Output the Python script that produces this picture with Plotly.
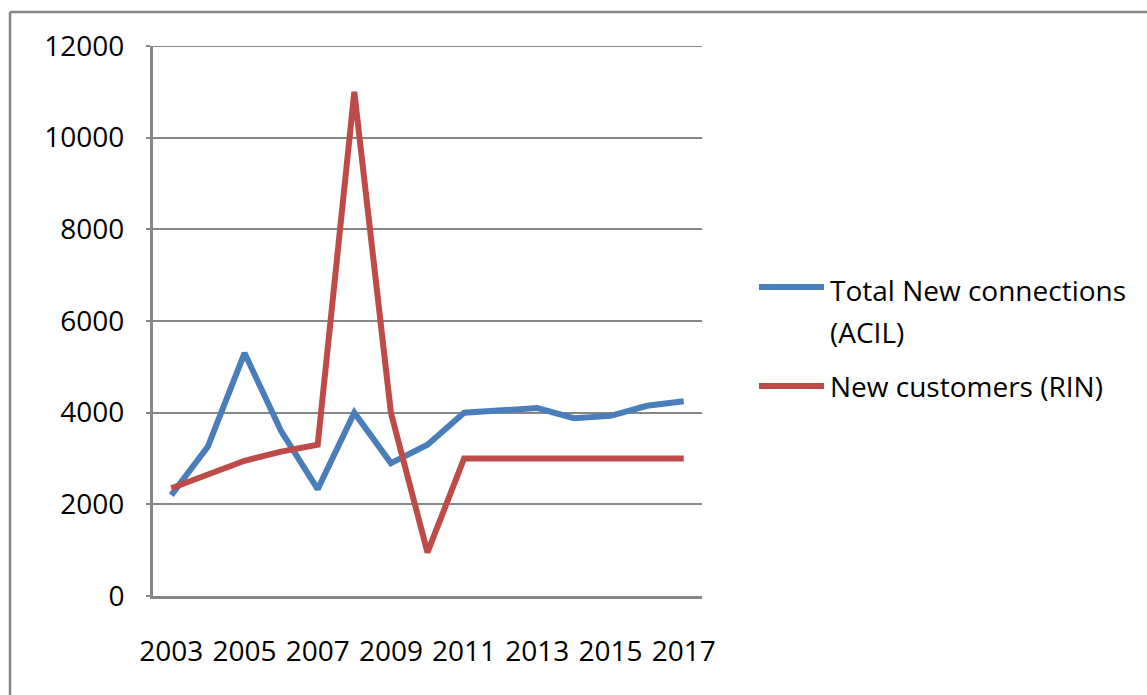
import plotly.graph_objects as go

# Annual series
years = [str(y) for y in range(2003, 2018)]
acil_connections = [2200, 3260, 5300, 3600, 2330, 4000, 2900, 3300,
                    4000, 4050, 4100, 3880, 3930, 4150, 4250]
rin_customers = [2350, 2640, 2950, 3150, 3300, 11000, 4000, 950,
                 3000, 3000, 3000, 3000, 3000, 3000, 3000]
series_names = ["Total New connections", "(ACIL)", "New customers (RIN)"]
y_ticks = [0, 2000, 4000, 6000, 8000, 10000, 12000]
x_ticks = years[::2]

BLUE = "#4A7EBB"
RED = "#BE4B48"
GREY = "#868686"
FONT = "Open Sans"
FS = 28

W, H = 1147, 695
L, R, T, B = 153, 445, 46, 99
PW, PH = W - L - R, H - T - B


def px_x(x):
    return (x - L) / PW


def px_y(y):
    return (H - B - y) / PH


fig = go.Figure()
fig.add_trace(go.Scatter(x=years, y=acil_connections, mode="lines",
                         line=dict(color=BLUE, width=6),
                         name=series_names[0], showlegend=False))
fig.add_trace(go.Scatter(x=years, y=rin_customers, mode="lines",
                         line=dict(color=RED, width=6),
                         name=series_names[2], showlegend=False))

shapes = [
    # top gridline at the end of the value range
    dict(type="line", xref="paper", yref="y", layer="below",
         x0=0, x1=1, y0=y_ticks[-1], y1=y_ticks[-1],
         line=dict(color=GREY, width=2)),
    # outer chart frame (left and top edges)
    dict(type="line", xref="paper", yref="paper",
         x0=px_x(10), x1=px_x(10), y0=px_y(12), y1=px_y(H + 5),
         line=dict(color=GREY, width=2.5)),
    dict(type="line", xref="paper", yref="paper",
         x0=px_x(10), x1=px_x(W + 5), y0=px_y(12), y1=px_y(12),
         line=dict(color=GREY, width=2.5)),
    # legend keys
    dict(type="line", xref="paper", yref="paper",
         x0=px_x(759), x1=px_x(824), y0=px_y(287), y1=px_y(287),
         line=dict(color=BLUE, width=6)),
    dict(type="line", xref="paper", yref="paper",
         x0=px_x(759), x1=px_x(824), y0=px_y(386), y1=px_y(386),
         line=dict(color=RED, width=6)),
]

legend_font = dict(family=FONT, size=FS, color="#000000")
annotations = [
    dict(text=series_names[0], x=px_x(828), y=px_y(290), xref="paper", yref="paper",
         xanchor="left", yanchor="middle", showarrow=False, font=legend_font),
    dict(text=series_names[1], x=px_x(828), y=px_y(332), xref="paper", yref="paper",
         xanchor="left", yanchor="middle", showarrow=False, font=legend_font),
    dict(text=series_names[2], x=px_x(828), y=px_y(386), xref="paper", yref="paper",
         xanchor="left", yanchor="middle", showarrow=False, font=legend_font),
]

fig.update_layout(
    width=W, height=H,
    margin=dict(l=L, r=R, t=T, b=B, pad=0),
    paper_bgcolor="white", plot_bgcolor="white",
    font=dict(family=FONT, size=FS, color="#000000"),
    shapes=shapes, annotations=annotations,
    showlegend=False,
)
fig.update_xaxes(
    type="category", range=[-0.5, len(years) - 0.5],
    tickvals=x_ticks, ticktext=x_ticks, tickangle=0,
    showgrid=False, zeroline=False,
    showline=True, linecolor=GREY, linewidth=3,
    ticks="", ticklabelstandoff=28,
    tickfont=dict(family=FONT, size=FS),
)
fig.update_yaxes(
    range=[0, 12000], tickvals=y_ticks, ticktext=[str(v) for v in y_ticks],
    showgrid=True, gridcolor=GREY, gridwidth=2,
    zeroline=False, showline=True, linecolor=GREY, linewidth=3,
    ticks="outside", ticklen=4, tickwidth=2, tickcolor=GREY,
    ticklabelstandoff=16,
    tickfont=dict(family=FONT, size=FS),
)

fig.write_html("out.html")
